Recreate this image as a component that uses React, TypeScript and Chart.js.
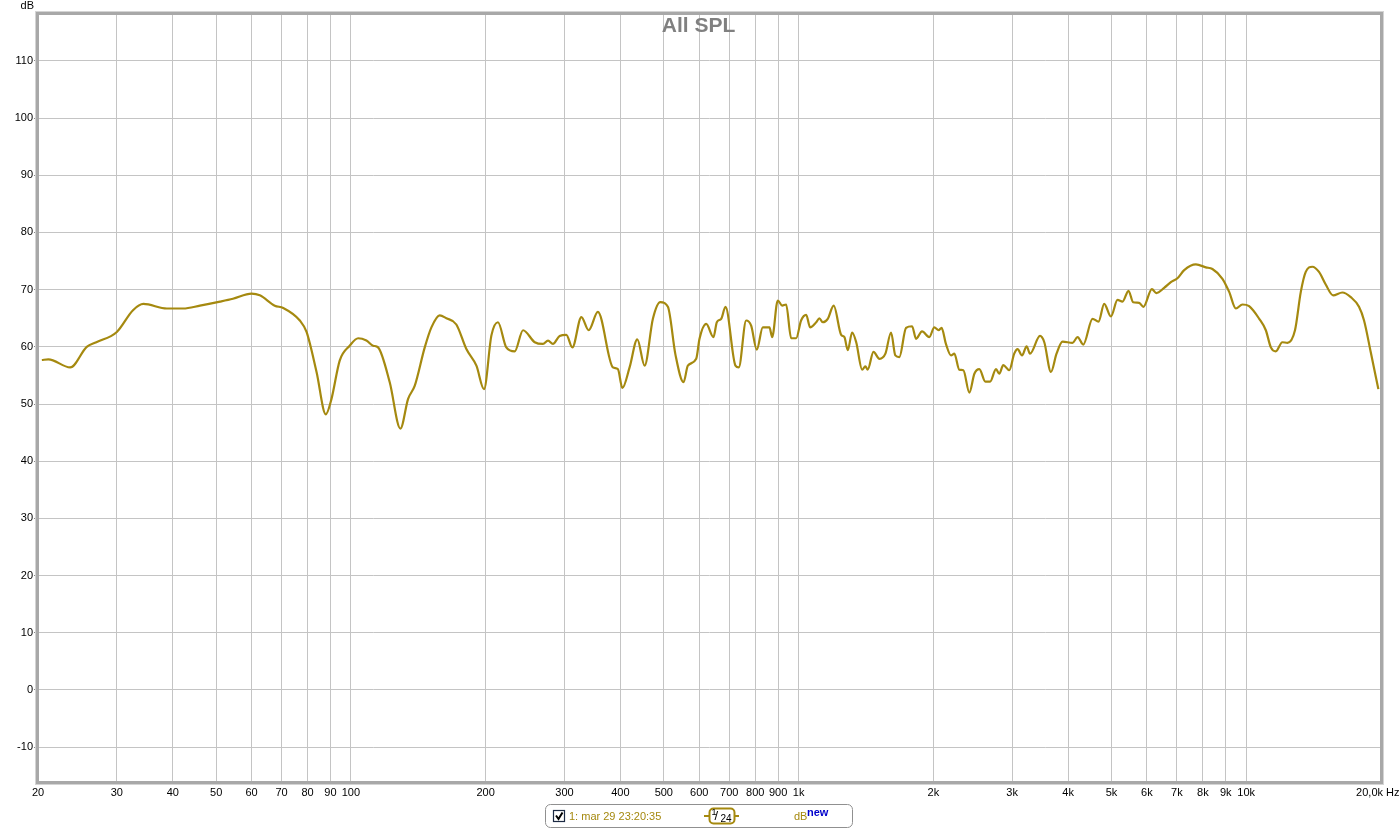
import React, { useEffect, useRef } from "react";
import { Chart, registerables } from "chart.js";

Chart.register(...registerables);

const freqs = [
  20.4, 21.1, 23.6, 25.7, 27.0, 30.0, 32.6, 34.4, 38.8, 42.2,
  46.0, 51.0, 54.5, 60.0, 62.6, 67.6, 70.6, 76.9, 79.6, 83.8,
  87.9, 90.5, 94.4, 99.4, 103.8, 108.3, 112.1, 115.0, 122.1, 129.0,
  134.2, 138.9, 146.2, 151.3, 157.9, 163.4, 172.0, 181.1, 190.7, 198.3,
  206.0, 213.0, 222.4, 232.2, 242.4, 257.4, 268.6, 275.6, 282.6, 292.6,
  302.8, 312.4, 327.2, 339.7, 356.2, 384.8, 394.8, 404, 419.3, 436.3,
  453, 472.7, 491, 510.6, 531.2, 553.4, 565.8, 590.7, 600.8, 621.8,
  645.6, 656.7, 671.7, 686.8, 722.8, 735.2, 763.7, 783.6, 806.6, 831.8,
  861, 873, 898.5, 919, 938, 962.5, 987.6, 1013, 1040, 1061,
  1095, 1113, 1132, 1162, 1198, 1245, 1266, 1288, 1317, 1345,
  1387, 1410, 1427, 1470, 1516, 1563, 1609, 1645, 1679, 1738,
  1793, 1830, 1887, 1959, 2010, 2055, 2087, 2134, 2190, 2228,
  2286, 2334, 2407, 2470, 2534, 2614, 2678, 2761, 2808, 2866,
  2955, 3032, 3085, 3156, 3232, 3288, 3462, 3539, 3662, 3769,
  3888, 4092, 4200, 4324, 4536, 4678, 4816, 4985, 5158, 5292,
  5458, 5590, 5766, 5894, 6155, 6300, 6555, 6786, 7020, 7268,
  7718, 8124, 8404, 8848, 9160, 9480, 9808, 10150, 10690, 11060,
  11350, 11640, 12040, 12360, 12850, 13240, 13580, 14050, 14540, 15050,
  15630, 16390, 17120, 17860, 18330, 18970, 19730,
];

const spl = [
  57.7, 57.8, 56.4, 60.0, 60.8, 62.6, 66.4, 67.5, 66.7, 66.7,
  67.2, 67.9, 68.4, 69.3, 69.0, 67.2, 66.8, 64.6, 62.6, 55.6,
  48.2, 50.9, 57.6, 60.2, 61.5, 61.1, 60.2, 59.9, 53.8, 45.7,
  50.9, 53.2, 59.9, 63.4, 65.5, 65.0, 63.9, 59.6, 56.7, 52.6,
  62.0, 64.3, 59.9, 59.2, 62.9, 60.8, 60.5, 61.1, 60.5, 61.9,
  62.1, 59.9, 65.2, 62.9, 66.1, 56.4, 56.1, 52.8, 56.4, 61.3,
  56.7, 64.9, 67.8, 67.0, 58.5, 53.8, 56.7, 57.9, 61.4, 64.0,
  61.7, 64.3, 64.9, 67.0, 56.7, 56.4, 64.6, 63.7, 59.5, 63.4,
  63.4, 61.7, 68.1, 67.2, 67.4, 61.5, 61.5, 64.6, 65.6, 63.4,
  64.3, 65.0, 64.3, 64.9, 67.2, 62.1, 61.7, 59.4, 62.5, 60.8,
  56.0, 56.6, 56.0, 59.1, 57.9, 58.8, 62.5, 58.5, 58.2, 63.3,
  63.6, 61.4, 62.7, 61.7, 63.4, 62.9, 63.3, 60.5, 58.5, 58.8,
  56.0, 55.9, 52.0, 55.3, 56.1, 53.9, 53.9, 56.1, 55.3, 56.8,
  55.9, 58.8, 59.6, 58.5, 60.1, 58.8, 61.9, 60.8, 55.6, 58.8,
  60.9, 60.7, 61.7, 60.4, 64.9, 64.4, 67.5, 65.3, 68.2, 67.9,
  69.8, 67.8, 67.7, 67.0, 70.1, 69.4, 70.3, 71.3, 72.0, 73.4,
  74.4, 73.9, 73.6, 71.9, 69.6, 66.7, 67.4, 67.1, 64.9, 62.9,
  59.9, 59.2, 60.8, 60.7, 62.9, 69.6, 73.1, 74.0, 73.1, 70.9,
  69.0, 69.5, 68.7, 67.0, 64.6, 59.1, 52.6,
];

const yTicks = [-10, 0, 10, 20, 30, 40, 50, 60, 70, 80, 90, 100, 110];
const xTicks = [
  20, 30, 40, 50, 60, 70, 80, 90, 100, 200, 300, 400, 500, 600, 700, 800, 900,
  1000, 2000, 3000, 4000, 5000, 6000, 7000, 8000, 9000, 10000, 20000,
];
const xTickLabels = [
  "20", "30", "40", "50", "60", "70", "80", "90", "100", "200", "300", "400",
  "500", "600", "700", "800", "900", "1k", "2k", "3k", "4k", "5k", "6k", "7k",
  "8k", "9k", "10k", "20,0k",
];
const xUnit = "Hz";
const yUnit = "dB";
const titleText = "All SPL";
const legendLabel = "1: mar 29 23:20:35";

const FONT = "'Liberation Sans', Arial, sans-serif";
const LINE_COLOR = "#a5890f";

const decorPlugin = {
  id: "decor",
  afterDraw(chart: any) {
    const ctx = chart.ctx as CanvasRenderingContext2D;
    const a = chart.chartArea;
    const xs = chart.scales.x;
    ctx.save();

    // frame
    ctx.strokeStyle = "#d4d4d4";
    ctx.lineWidth = 1;
    ctx.strokeRect(a.left - 2.5, a.top - 2.5, a.right - a.left + 5, a.bottom - a.top + 5);
    ctx.strokeStyle = "#a8a8a8";
    ctx.lineWidth = 3;
    ctx.strokeRect(a.left - 0.5, a.top - 0.5, a.right - a.left + 1, a.bottom - a.top + 1);

    // title
    ctx.fillStyle = "#808080";
    ctx.font = `bold 21px ${FONT}`;
    ctx.textAlign = "center";
    ctx.textBaseline = "middle";
    ctx.fillText(titleText, chart.width / 2 - 1, 26);

    // y unit
    ctx.fillStyle = "#000";
    ctx.font = `11px ${FONT}`;
    ctx.textAlign = "right";
    ctx.fillText(yUnit, 34, 6);

    // x labels
    ctx.fillStyle = "#000";
    ctx.font = `11px ${FONT}`;
    xTicks.forEach((v, i) => {
      const px = xs.getPixelForValue(v);
      if (i === xTicks.length - 1) {
        ctx.textAlign = "right";
        ctx.fillText(xTickLabels[i], px + 2, 793);
        ctx.textAlign = "left";
        ctx.fillText(xUnit, px + 5, 793);
      } else {
        ctx.textAlign = "center";
        ctx.fillText(xTickLabels[i], px, 793);
      }
    });

    // legend box
    const bx = 545.5, by = 804.5, bw = 307, bh = 23;
    ctx.beginPath();
    (ctx as any).roundRect(bx, by, bw, bh, 5);
    ctx.fillStyle = "#fff";
    ctx.fill();
    ctx.strokeStyle = "#909090";
    ctx.lineWidth = 1;
    ctx.stroke();

    // checkbox
    ctx.fillStyle = "#fff";
    ctx.fillRect(553.5, 810.5, 11, 11);
    ctx.strokeStyle = "#1c2a44";
    ctx.lineWidth = 1.2;
    ctx.strokeRect(553.5, 810.5, 11, 11);
    ctx.beginPath();
    ctx.moveTo(556, 815.5);
    ctx.lineTo(558.5, 819);
    ctx.lineTo(562.5, 812.5);
    ctx.strokeStyle = "#000";
    ctx.lineWidth = 2;
    ctx.stroke();

    ctx.fillStyle = LINE_COLOR;
    ctx.font = `11px ${FONT}`;
    ctx.textAlign = "left";
    ctx.textBaseline = "middle";
    ctx.fillText(legendLabel, 569, 816.5);

    // smoothing symbol
    ctx.strokeStyle = LINE_COLOR;
    ctx.lineWidth = 2;
    ctx.beginPath();
    ctx.moveTo(704, 816);
    ctx.lineTo(739, 816);
    ctx.stroke();
    ctx.beginPath();
    (ctx as any).roundRect(709.5, 808.5, 25, 15, 4);
    ctx.fillStyle = "#fff";
    ctx.fill();
    ctx.stroke();
    ctx.fillStyle = "#000";
    ctx.font = `9px ${FONT}`;
    ctx.fillText("1", 711.5, 813);
    ctx.font = `13px ${FONT}`;
    ctx.fillText("/", 714.5, 816);
    ctx.font = `10px ${FONT}`;
    ctx.fillText("24", 720.5, 819);

    // dB new
    ctx.fillStyle = LINE_COLOR;
    ctx.font = `11px ${FONT}`;
    ctx.fillText("dB", 794, 817);
    ctx.fillStyle = "#0000cc";
    ctx.font = `bold 11px ${FONT}`;
    ctx.fillText("new", 807, 813);

    ctx.restore();
  },
};

export default function App() {
  const ref = useRef<HTMLCanvasElement | null>(null);

  useEffect(() => {
    document.body.style.margin = "0";
    if (!ref.current) return;
    const chart = new Chart(ref.current, {
      type: "line",
      data: {
        datasets: [
          {
            label: legendLabel,
            data: freqs.map((f, i) => ({ x: f, y: spl[i] })),
            borderColor: LINE_COLOR,
            borderWidth: 2.2,
            pointRadius: 0,
            fill: false,
            cubicInterpolationMode: "monotone",
          },
        ],
      },
      options: {
        animation: false,
        responsive: true,
        maintainAspectRatio: false,
        layout: { padding: { top: 14, right: 18, left: 0, bottom: 0 } },
        plugins: {
          legend: { display: false },
          title: { display: false },
          tooltip: { enabled: false },
        },
        scales: {
          x: {
            type: "logarithmic",
            min: 20,
            max: 20000,
            border: { display: false },
            grid: { color: "#c4c4c4", lineWidth: 1, drawTicks: true, tickLength: 3, tickColor: "#c4c4c4" },
            ticks: { display: false },
            afterBuildTicks: (s: any) => {
              s.ticks = xTicks.map((v) => ({ value: v }));
            },
            afterFit: (s: any) => {
              s.height = 48;
            },
          },
          y: {
            type: "linear",
            min: -16.1,
            max: 118.2,
            border: { display: false },
            grid: { color: "#c4c4c4", lineWidth: 1, drawTicks: true, tickLength: 4, tickColor: "#888" },
            ticks: {
              color: "#000",
              padding: 1,
              font: { family: FONT, size: 11 },
              callback: (v: any) => String(v),
            },
            afterBuildTicks: (s: any) => {
              s.ticks = yTicks.map((v) => ({ value: v }));
            },
            afterFit: (s: any) => {
              s.width = 38;
            },
          },
        },
      },
      plugins: [decorPlugin],
    } as any);
    return () => chart.destroy();
  }, []);

  return (
    <div style={{ position: "absolute", left: 0, top: 0, width: 1399, height: 830, background: "#fff" }}>
      <canvas ref={ref} />
    </div>
  );
}
